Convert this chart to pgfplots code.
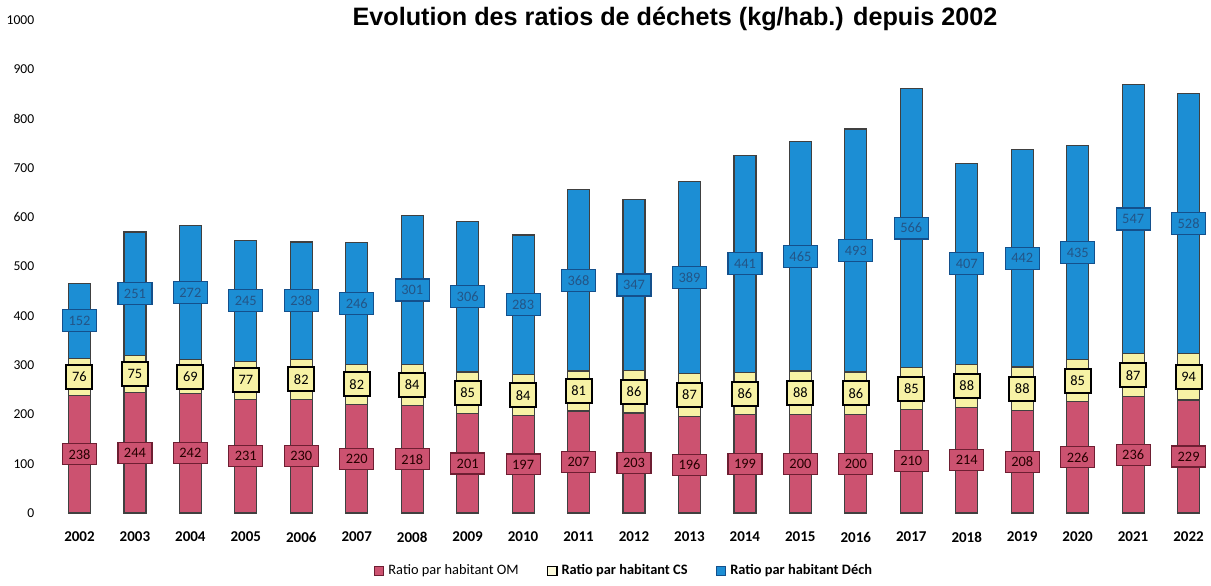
\documentclass[border=0pt]{standalone}
\usepackage{pgfplots}
\pgfplotsset{compat=1.18}
\usepackage{pgfplotstable}
\usepackage{fontspec}
\setmainfont{Carlito}
\newfontfamily\titlefont{Liberation Sans}

\definecolor{om}{RGB}{204,82,112}
\definecolor{omdark}{RGB}{110,30,50}
\definecolor{cs}{RGB}{247,242,165}
\definecolor{dech}{RGB}{28,142,212}
\definecolor{dechdark}{RGB}{20,80,140}
\definecolor{dechtext}{RGB}{35,85,135}

% kg par habitant : OM, CS, Dech
\pgfplotstableread{
year om  cs dech
2002 238 76 152
2003 244 75 251
2004 242 69 272
2005 231 77 245
2006 230 82 238
2007 220 82 246
2008 218 84 301
2009 201 85 306
2010 197 84 283
2011 207 81 368
2012 203 86 347
2013 196 87 389
2014 199 86 441
2015 200 88 465
2016 200 86 493
2017 210 85 566
2018 214 88 407
2019 208 88 442
2020 226 85 435
2021 236 87 547
2022 229 94 528
}\ratios

\tikzset{
  lab/.style={inner sep=0pt, anchor=center, font=\fontsize{7.2}{8}\selectfont},
  omlab/.style={lab, fill=om, draw=omdark, line width=0.6pt, text=black!85!red,
    minimum width=17pt, minimum height=10.5pt},
  cslab/.style={lab, fill=cs, draw=black, line width=1pt, text=black,
    minimum width=13pt, minimum height=12pt},
  dechlab/.style={lab, fill=dech, draw=dechdark, line width=0.6pt, text=dechtext,
    minimum width=17pt, minimum height=11pt},
}

\begin{document}
\begin{tikzpicture}
\begin{axis}[
    scale only axis,
    width=577pt, height=246.5pt,
    xmin=2001.6, xmax=2022.4,
    ymin=0, ymax=1000,
    axis line style={draw=none},
    major tick length=0pt,
    xtick={2002,...,2022},
    ytick={0,100,...,1000},
    /pgf/number format/assume math mode=true,
    /pgf/number format/1000 sep={},
    xticklabel style={font=\fontsize{7.5}{8}\selectfont\bfseries, yshift=-6pt},
    yticklabel style={font=\fontsize{6.8}{8}\selectfont, xshift=-8pt},
    clip=false,
    legend columns=3,
    legend style={draw=none, fill=none, at={(axis description cs:0.492,-0.118)},
      anchor=center, font=\fontsize{7.2}{8}\selectfont,
      /tikz/every even column/.append style={column sep=12pt}},
    legend image code/.code={\draw[#1] (0pt,-2.4pt) rectangle (4.8pt,2.4pt);},
]
% barres : total, puis OM+CS, puis OM par-dessus
\addplot[ybar, bar width=11pt, bar shift=0pt, fill=dech, draw=black!75, line width=0.6pt, forget plot]
  table[x=year, y expr=\thisrow{om}+\thisrow{cs}+\thisrow{dech}] {\ratios};
\addplot[ybar, bar width=11pt, bar shift=0pt, fill=cs, draw=black!75, line width=0.6pt, forget plot]
  table[x=year, y expr=\thisrow{om}+\thisrow{cs}] {\ratios};
\addplot[ybar, bar width=11pt, bar shift=0pt, fill=om, draw=black!75, line width=0.6pt, forget plot]
  table[x=year, y=om] {\ratios};

% etiquettes au milieu de chaque segment
\addplot[ybar, bar width=11pt, bar shift=0pt, draw=none, fill=none, forget plot,
  point meta=explicit, nodes near coords, nodes near coords style={omlab}]
  table[x=year, y expr=\thisrow{om}/2, meta=om] {\ratios};
\addplot[ybar, bar width=11pt, bar shift=0pt, draw=none, fill=none, forget plot,
  point meta=explicit, nodes near coords, nodes near coords style={cslab}]
  table[x=year, y expr=\thisrow{om}+\thisrow{cs}/2, meta=cs] {\ratios};
\addplot[ybar, bar width=11pt, bar shift=0pt, draw=none, fill=none, forget plot,
  point meta=explicit, nodes near coords, nodes near coords style={dechlab}]
  table[x=year, y expr=\thisrow{om}+\thisrow{cs}+\thisrow{dech}/2, meta=dech] {\ratios};

\addlegendimage{fill=om, draw=omdark, line width=0.6pt}
\addlegendentry{Ratio par habitant OM}
\addlegendimage{fill=cs!40, draw=black, line width=0.6pt}
\addlegendentry{\bfseries Ratio par habitant CS}
\addlegendimage{fill=dech, draw=dechdark, line width=0.6pt}
\addlegendentry{\bfseries Ratio par habitant Déch}

\node[font=\titlefont\bfseries\fontsize{12.6}{14}\selectfont, anchor=base]
  at ([yshift=-2.5pt]axis description cs:0.5355,1) {Evolution des ratios de déchets (kg/hab.) depuis 2002};
\end{axis}
\end{tikzpicture}
\end{document}
